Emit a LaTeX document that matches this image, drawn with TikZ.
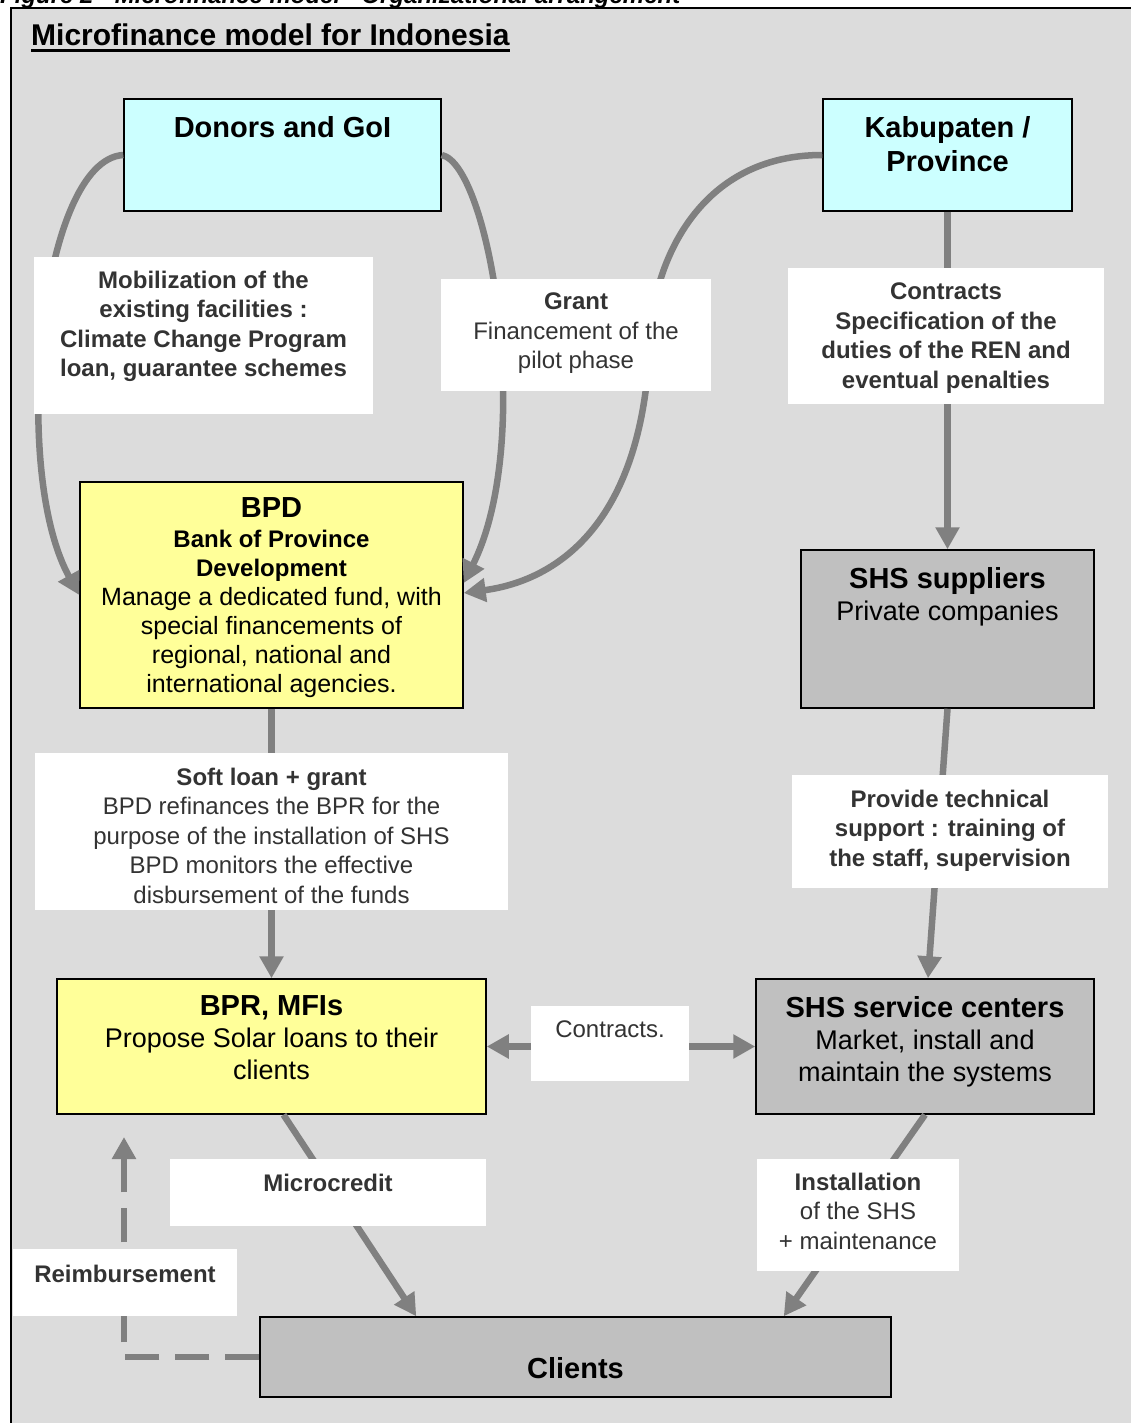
\documentclass[tikz,border=0pt]{standalone}
\usepackage{fontspec}
\setmainfont{Liberation Sans}
\usetikzlibrary{arrows.meta}
\definecolor{panel}{HTML}{DCDCDC}
\definecolor{cyanbox}{HTML}{CCFFFF}
\definecolor{yellowbox}{HTML}{FFFF99}
\definecolor{greybox}{HTML}{C0C0C0}
\definecolor{flow}{HTML}{808080}
\definecolor{notetext}{HTML}{333333}
% text block of a box: width, height, gap above the first line, text
\newcommand{\inbox}[4]{\parbox[c][#2][t]{#1}{\centering\vspace*{#3}#4}}
\newcommand{\hd}{\fontsize{29}{34}\selectfont\bfseries}
\newcommand{\sm}{\fontsize{24}{29.5}\selectfont}
\newcommand{\md}{\fontsize{27}{32}\selectfont}
\begin{document}
\begin{tikzpicture}[x=1pt, y=-1pt,
box/.style={draw=black, line width=1.5pt, inner sep=0pt},
note/.style={fill=white, inner sep=0pt, text=notetext, font=\sm},
arrow/.style={draw=flow, line width=6.5pt, -{Triangle[length=22pt,width=23pt]}}
]
\useasboundingbox (0,0) rectangle (1131,1423);
\clip (0,0) rectangle (1131,1423);
\draw[fill=panel, line width=1.5pt] (11,8) rectangle (1160,1450);
\node[anchor=base west, inner sep=0pt, font=\fontsize{24}{29}\selectfont\bfseries\itshape] (caption) at (0,4) {Figure 2 - Microfinance model - Organizational arrangement};
\node[anchor=base west, inner sep=0pt, font=\fontsize{30}{36}\selectfont\bfseries] (title) at (31,46) {Microfinance model for Indonesia};
\draw[line width=2.5pt] ([yshift=-4.5pt]title.base west) -- ([yshift=-4.5pt]title.base east);
% boxes
\node[box, fill=cyanbox] (donors) at (282.5,155) {\inbox{317pt}{112pt}{17pt}{\hd Donors and GoI}};
\node[box, fill=cyanbox] (kab) at (947.5,155) {\inbox{249pt}{112pt}{17pt}{\hd Kabupaten /\\ Province}};
\node[box, fill=yellowbox] (bpd) at (271.5,595) {\inbox{383pt}{226pt}{16pt}{{\hd BPD\par}{\sm\bfseries Bank of Province\\ Development\par}\fontsize{25}{29}\selectfont Manage a dedicated fund, with\\ special financements of\\ regional, national and\\ international agencies.}};
\node[box, fill=greybox] (shssup) at (947.5,629) {\inbox{293pt}{158pt}{17pt}{{\hd SHS suppliers\par}\md Private companies}};
\node[box, fill=yellowbox] (bpr) at (271.5,1046.5) {\inbox{429pt}{135pt}{17pt}{{\hd BPR, MFIs\par}\md Propose Solar loans to their\\ clients}};
\node[box, fill=greybox] (shsserv) at (925,1046.5) {\inbox{338pt}{135pt}{17pt}{{\hd SHS service centers\par}\md Market, install and\\ maintain the systems}};
\node[box, fill=greybox] (clients) at (575.5,1357) {\inbox{631pt}{80pt}{40pt}{\hd Clients}};
% flows
\draw[arrow] (donors.west) .. controls (40,160) and (10,470) .. (bpd.west);
\draw[arrow] (donors.east) .. controls (490,165) and (535,440) .. ([yshift=12pt]bpd.east);
\draw[arrow] (kab.west) .. controls (700,155) and (655,260) .. (650,335) .. controls (645,520) and (560,580) .. ([yshift=2pt]bpd.east);
\draw[arrow] (kab.south) -- (shssup.north);
\draw[arrow] (shssup.south) -- ([xshift=3pt]shsserv.north);
\draw[arrow] (bpd.south) -- (bpr.north);
\draw[arrow, {Triangle[length=22pt,width=23pt]}-{Triangle[length=22pt,width=23pt]}] (bpr.east) -- (shsserv.west);
\draw[arrow] ([xshift=12pt]bpr.south) -- ([xshift=157pt]clients.north west);
\draw[arrow] (shsserv.south) -- ([xshift=-108pt]clients.north east);
\coordinate (reimbtop) at (124,1137);
\draw[arrow, dash pattern=on 34pt off 16pt] (clients.west) -| (reimbtop);
% notes on the flows
\node[note] (mobil) at (203.5,335.5) {\inbox{339pt}{157pt}{14pt}{\bfseries Mobilization of the\\ existing facilities :\\ Climate Change Program\\ loan, guarantee schemes}};
\node[note] (grant) at (576,335) {\inbox{270pt}{112pt}{14pt}{{\bfseries Grant\par}Financement of the\\ pilot phase}};
\node[note] (duties) at (946,336) {\inbox{316pt}{136pt}{15pt}{\bfseries Contracts\\ Specification of the\\ duties of the REN and\\ eventual penalties}};
\node[note] (softloan) at (271.5,831.5) {\inbox{473pt}{157pt}{15pt}{{\bfseries Soft loan + grant\par}BPD refinances the BPR for the\\ purpose of the installation of SHS\\ BPD monitors the effective\\ disbursement of the funds}};
\node[note] (support) at (950,831.5) {\inbox{316pt}{113pt}{15pt}{\bfseries Provide technical\\ support : training of\\ the staff, supervision}};
\node[note] (contracts) at (610,1043.5) {\inbox{158pt}{75pt}{15pt}{Contracts.}};
\node[note] (micro) at (328,1192.5) {\inbox{316pt}{67pt}{15pt}{\bfseries Microcredit}};
\node[note] (install) at (858,1215) {\inbox{202pt}{112pt}{14pt}{{\bfseries Installation\par}of the SHS\\ + maintenance}};
\node[note] (reimb) at (125,1282.5) {\inbox{224pt}{67pt}{16pt}{\bfseries Reimbursement}};
\end{tikzpicture}
\end{document}
